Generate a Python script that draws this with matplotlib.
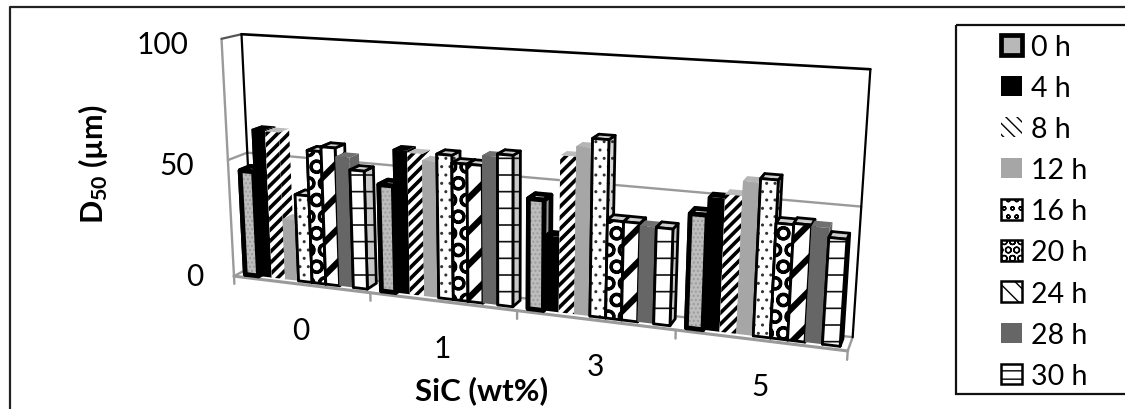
import numpy as np
import matplotlib
matplotlib.use("Agg")
import matplotlib.pyplot as plt
from matplotlib.patches import Polygon, Patch, Rectangle

FONT = "Lato"
plt.rcParams["mathtext.fontset"] = "custom"
plt.rcParams["mathtext.rm"] = "Lato"
plt.rcParams["mathtext.bf"] = "Lato:bold"

categories = ["0", "1", "3", "5"]
hours = ["0 h", "4 h", "8 h", "12 h", "16 h", "20 h", "24 h", "28 h", "30 h"]
h0 = [45, 44.5, 44.5, 44.5]
h4 = [63, 59.5, 30.5, 51.5]
h8 = [62.5, 58.5, 62.5, 53]
h12 = [26, 56, 66.5, 58.5]
h16 = [37, 59, 70, 60]
h20 = [56, 56, 39, 44]
h24 = [58, 56, 39, 44.5]
h28 = [54.5, 60, 38, 44]
h30 = [49.5, 61, 38, 40.5]
series = [h0, h4, h8, h12, h16, h20, h24, h28, h30]
yticks = [0, 50, 100]

styles = [
    dict(fc="#bdbdbd", side="#9a9a9a", top="#d0d0d0", hatch="....", hc="#9c9c9c", ec="black", lw=3.4, hlw=1.0),
    dict(fc="#000000", side="#000000", top="#000000", hatch=None, hc=None, ec=None, lw=0, hlw=1.0),
    dict(fc="#ffffff", side="#ffffff", top="#bbbbbb", hatch="///", hc="black", ec=None, lw=0, hlw=2.6),
    dict(fc="#a6a6a6", side="#a6a6a6", top="#b5b5b5", hatch=None, hc=None, ec=None, lw=0, hlw=1.0),
    dict(fc="#ffffff", side="#d8d8d8", top="#cfcfcf", hatch="..", hc="#333333", ec="black", lw=2.0, hlw=1.0),
    dict(fc="#ffffff", side="#d8d8d8", top="#cfcfcf", hatch="O", hc="black", ec="black", lw=2.0, hlw=2.2),
    dict(fc="#ffffff", side="#ffffff", top="#cfcfcf", hatch="/", hc="black", ec="black", lw=2.0, hlw=4.5),
    dict(fc="#666666", side="#666666", top="#707070", hatch=None, hc=None, ec=None, lw=0, hlw=1.0),
    dict(fc="#ffffff", side="#c8c8c8", top="#cfcfcf", hatch="-", hc="#111111", ec="black", lw=2.0, hlw=1.2),
]
legend_styles = [
    dict(fc="#b8b8b8", ec="black", lw=3.4, hatch=None, hlw=1.0),
    dict(fc="black", ec="black", lw=0, hatch=None, hlw=1.0),
    dict(fc="white", ec="black", lw=0, hatch="\\\\\\", hlw=3.2),
    dict(fc="#a6a6a6", ec="#a6a6a6", lw=0, hatch=None, hlw=1.0),
    dict(fc="white", ec="black", lw=1.8, hatch="oo", hlw=2.0),
    dict(fc="white", ec="black", lw=1.8, hatch="OO", hlw=3.0),
    dict(fc="white", ec="black", lw=1.8, hatch="\\\\", hlw=4.0),
    dict(fc="#666666", ec="#666666", lw=0, hatch=None, hlw=1.0),
    dict(fc="white", ec="black", lw=1.8, hatch="--", hlw=1.4),
]

# Camera calibration: (category position, value, depth) -> canvas pixel
calib_src = np.array([[0, 0, 0], [4, 0, 0], [0, 100, 0], [0, 0, 1], [4, 0, 1], [0, 100, 1], [4, 100, 1],
                      [0, 50, 0], [0, 50, 1], [4, 50, 1]], float)
calib_dst = np.array([[236, 277], [848, 352], [219, 41], [248, 268], [853, 338], [241, 35], [871, 70],
                      [228, 160], [253, 153], [860, 208]], float)


def fit_camera(src, dst):
    s = np.array([4.0, 100.0, 1.0])
    rows = []
    for (a, b, c), (u, v) in zip(src / s, dst / 1000.0):
        rows.append([a, b, c, 1, 0, 0, 0, 0, -u * a, -u * b, -u * c, -u])
        rows.append([0, 0, 0, 0, a, b, c, 1, -v * a, -v * b, -v * c, -v])
    m = np.linalg.svd(np.array(rows))[2][-1].reshape(3, 4)
    return m, s


CAM, SCALE = fit_camera(calib_src, calib_dst)


def project(x, y, d):
    p = CAM @ np.array([x / SCALE[0], y / SCALE[1], d / SCALE[2], 1.0])
    return p[:2] / p[2] * 1000.0


fig = plt.figure(figsize=(11.25, 4.10), dpi=100)
ax = fig.add_axes([0, 0, 1, 1])
ax.set_xlim(0, 1125)
ax.set_ylim(410, 0)
ax.axis("off")


def line(a, b, color, lw, z=1):
    p, q = project(*a), project(*b)
    ax.plot([p[0], q[0]], [p[1], q[1]], color=color, lw=lw, solid_capstyle="round", zorder=z)


# frame around the picture
ax.plot([9.5, 9.5, 1125], [410, 7.5, 7.5], color="#222222", lw=1.6, zorder=1)

GREY = "#9a9a9a"
# walls and floor
for g in yticks[:-1]:
    line((0, g, 0), (0, g, 1), GREY, 1.7)
    line((0, g, 1), (4, g, 1), GREY, 1.7)
line((0, 0, 0), (4, 0, 0), GREY, 2.2, 1.5)
line((4, 0, 0), (4, 0, 1), GREY, 1.7)
line((0, 0, 0), (0, 100, 0), GREY, 1.7)
line((0, 100, 0), (0, 100, 1), "#555555", 1.6)
line((0, 100, 1), (4, 100, 1), "black", 1.9)
line((0, 100, 1), (0, 0, 1), "black", 1.6)
line((4, 100, 1), (4, 0, 1), "black", 1.6)
for i in range(5):
    line((i, 0, 0), (i, -3.4, 0), GREY, 1.7)


def face(pts, fc, hatch=None, hc=None, ec=None, lw=0, hlw=1.0, z=2):
    xy = np.array([project(*p) for p in pts])
    if hatch:
        pa = Polygon(xy, closed=True, facecolor=fc, edgecolor=hc, hatch=hatch, lw=0, zorder=z)
        if hasattr(pa, "set_hatch_linewidth"):
            pa.set_hatch_linewidth(hlw)
        ax.add_patch(pa)
        if ec:
            ax.add_patch(Polygon(xy, closed=True, fill=False, edgecolor=ec, lw=lw, zorder=z, joinstyle="round"))
    else:
        ax.add_patch(Polygon(xy, closed=True, facecolor=fc, edgecolor=ec or "none", lw=lw, zorder=z, joinstyle="round"))


D0, D1 = 0.25, 0.8
PAD = 0.05
W = (1 - 2 * PAD) / len(series)
z = 2.0
for c in range(len(categories)):
    for s, vals in enumerate(series):
        st = styles[s]
        x0 = c + PAD + s * W
        x1 = x0 + W
        v = vals[c]
        z += 0.01
        kw = dict(ec=st["ec"], lw=st["lw"], z=z)
        face([(x1, 0, D0), (x1, 0, D1), (x1, v, D1), (x1, v, D0)], st["side"], st["hatch"], st["hc"], hlw=st["hlw"], **kw)
        face([(x0, 0, D0), (x0, 0, D1), (x0, v, D1), (x0, v, D0)], st["side"], **kw)
        face([(x0, v, D0), (x1, v, D0), (x1, v, D1), (x0, v, D1)], st["top"], **kw)
        face([(x0, 0, D0), (x1, 0, D0), (x1, v, D0), (x0, v, D0)], st["fc"], st["hatch"], st["hc"], hlw=st["hlw"], **kw)

# value labels
tick_right = [203, 194, 188]
tick_shift = [0, 5, 5]
for t, r, dy in zip(yticks, tick_right, tick_shift):
    p = project(0, t, 0)
    ax.text(r, p[1] + dy, str(t), ha="right", va="center", fontsize=21.5, family=FONT, color="black")

# category labels
for i, name in enumerate(categories):
    p = project(i + 0.5, 0, 0)
    ax.text(p[0], p[1] + 46, name, ha="center", va="center", fontsize=21.5, family=FONT, color="black")

ax.text(482, 391, "SiC (wt%)", ha="center", va="center", fontsize=22.5, fontweight="bold", family=FONT, color="black")
ax.text(93, 164, r"$\mathbf{D_{50}}$ (µm)", rotation=90, ha="center", va="center", fontsize=22,
        fontweight="bold", family=FONT, color="black")

# legend
handles = []
for st, name in zip(legend_styles, hours):
    h = Patch(facecolor=st["fc"], edgecolor=st["ec"], hatch=st["hatch"], lw=st["lw"], label=name)
    if st["hatch"] and hasattr(h, "set_hatch_linewidth"):
        h.set_hatch_linewidth(st["hlw"])
    handles.append(h)
ax.add_patch(Rectangle((955.5, 25.5), 300, 369.5, fill=False, edgecolor="#111111", lw=1.6, zorder=1))
leg = ax.legend(handles=handles, loc="upper left", bbox_to_anchor=(1001 / 1125, 1 - 35 / 410), frameon=False,
                prop=dict(family=FONT, size=20.5), handlelength=0.72, handleheight=0.72, handletextpad=0.33,
                labelspacing=0.53, borderpad=0, borderaxespad=0, labelcolor="black")

fig.savefig("out.png", dpi=100)
